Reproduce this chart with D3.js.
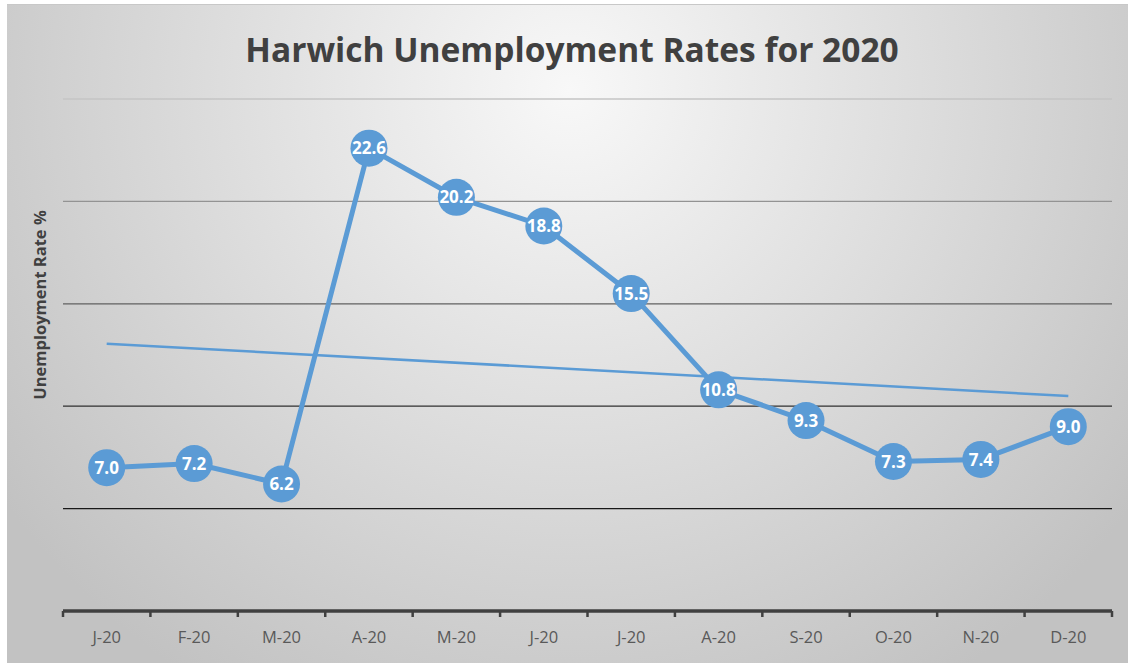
<!DOCTYPE html>
<html>
<head>
<meta charset="utf-8">
<script src="https://cdn.jsdelivr.net/npm/d3@7"></script>
<style>
  body { margin: 0; background: #fff; }
  svg { display: block; }
</style>
</head>
<body>
<div id="chart"></div>
<script>
// chart data
const months = ["J-20", "F-20", "M-20", "A-20", "M-20", "J-20", "J-20", "A-20", "S-20", "O-20", "N-20", "D-20"];
const rates = [7.0, 7.2, 6.2, 22.6, 20.2, 18.8, 15.5, 10.8, 9.3, 7.3, 7.4, 9.0];
const gridValues = [0, 5, 10, 15, 20, 25];

const width = 1128, height = 663;
const margin = { top: 99, right: 16, bottom: 52, left: 63 };
const innerW = width - margin.left - margin.right;
const innerH = height - margin.top - margin.bottom;

const svg = d3.select("#chart").append("svg")
    .attr("width", width)
    .attr("height", height);

// background gradient
const defs = svg.append("defs");
const bg = defs.append("radialGradient")
    .attr("id", "bg")
    .attr("gradientUnits", "userSpaceOnUse")
    .attr("cx", 570).attr("cy", 90).attr("r", 700);
bg.append("stop").attr("offset", "0%").attr("stop-color", "#f8f8f8");
bg.append("stop").attr("offset", "100%").attr("stop-color", "#c2c2c2");

svg.append("rect")
    .attr("x", 7).attr("y", 4)
    .attr("width", width - 7).attr("height", height - 4)
    .attr("fill", "url(#bg)");
svg.append("line")
    .attr("x1", 7).attr("x2", width).attr("y1", 4.5).attr("y2", 4.5)
    .attr("stroke", "#c8c8c8").attr("stroke-width", 1);

const g = svg.append("g").attr("transform", `translate(${margin.left},${margin.top})`);

// scales
const idx = d3.range(months.length);
const x = d3.scaleBand().domain(idx).range([0, innerW]);
const y = d3.scaleLinear().domain([0, 25]).range([innerH, 0]);
const cx = i => x(i) + x.bandwidth() / 2;

// gridlines, darker toward the bottom
const gridColor = d3.scaleLinear().domain([25, 10, 0]).range(["#c4c4c4", "#303030", "#000"]);
g.selectAll(".grid")
    .data(gridValues.filter(v => v > 0))
    .join("line")
    .attr("class", "grid")
    .attr("x1", 0).attr("x2", innerW)
    .attr("y1", d => y(d)).attr("y2", d => y(d))
    .attr("stroke", d => gridColor(d))
    .attr("stroke-width", 1.3);

// x axis
const axis = g.append("g").attr("transform", `translate(0,${innerH})`);
axis.append("line")
    .attr("x1", 0).attr("x2", innerW)
    .attr("stroke", "#404040").attr("stroke-width", 3.5);
axis.selectAll(".tick")
    .data(d3.range(months.length + 1))
    .join("line")
    .attr("x1", d => d * x.step()).attr("x2", d => d * x.step())
    .attr("y1", 0).attr("y2", 6)
    .attr("stroke", "#404040").attr("stroke-width", 2.5);
axis.selectAll(".label")
    .data(idx)
    .join("text")
    .attr("x", d => cx(d))
    .attr("y", 32)
    .attr("text-anchor", "middle")
    .attr("fill", "#595959")
    .style("font-family", "'Open Sans', sans-serif")
    .style("font-size", "16.5px")
    .text(d => months[d]);

// linear trendline (least squares fit of the series)
const xs = idx.map(i => i + 1);
const mx = d3.mean(xs), my = d3.mean(rates);
const slope = d3.sum(xs, (v, i) => (v - mx) * (rates[i] - my)) / d3.sum(xs, v => (v - mx) ** 2);
const icpt = my - slope * mx;
g.append("line")
    .attr("x1", cx(0)).attr("y1", y(icpt + slope * xs[0]))
    .attr("x2", cx(idx.length - 1)).attr("y2", y(icpt + slope * xs[xs.length - 1]))
    .attr("stroke", "#5b9bd5").attr("stroke-width", 2.5);

// series line
const line = d3.line().x((d, i) => cx(i)).y(d => y(d));
g.append("path")
    .datum(rates)
    .attr("d", line)
    .attr("fill", "none")
    .attr("stroke", "#5b9bd5")
    .attr("stroke-width", 5)
    .attr("stroke-linejoin", "round");

// markers with labels
const pts = g.selectAll(".pt")
    .data(rates)
    .join("g")
    .attr("class", "pt")
    .attr("transform", (d, i) => `translate(${cx(i)},${y(d)})`);
pts.append("circle")
    .attr("r", 18.5)
    .attr("fill", "#5b9bd5");
pts.append("text")
    .attr("text-anchor", "middle")
    .attr("dy", "0.36em")
    .attr("fill", "#fff")
    .style("font-family", "'Open Sans', sans-serif")
    .style("font-weight", "bold")
    .style("font-size", "17px")
    .text(d => d.toFixed(1));

// title
svg.append("text")
    .attr("x", 572).attr("y", 62)
    .attr("text-anchor", "middle")
    .attr("fill", "#404040")
    .style("font-family", "'Open Sans', sans-serif")
    .style("font-weight", "bold")
    .style("font-size", "33.5px")
    .text("Harwich Unemployment Rates for 2020");

// y axis label
svg.append("text")
    .attr("transform", "translate(46,305) rotate(-90)")
    .attr("text-anchor", "middle")
    .attr("fill", "#404040")
    .style("font-family", "'Open Sans', sans-serif")
    .style("font-weight", "bold")
    .style("font-size", "16.5px")
    .text("Unemployment Rate %");
</script>
</body>
</html>
